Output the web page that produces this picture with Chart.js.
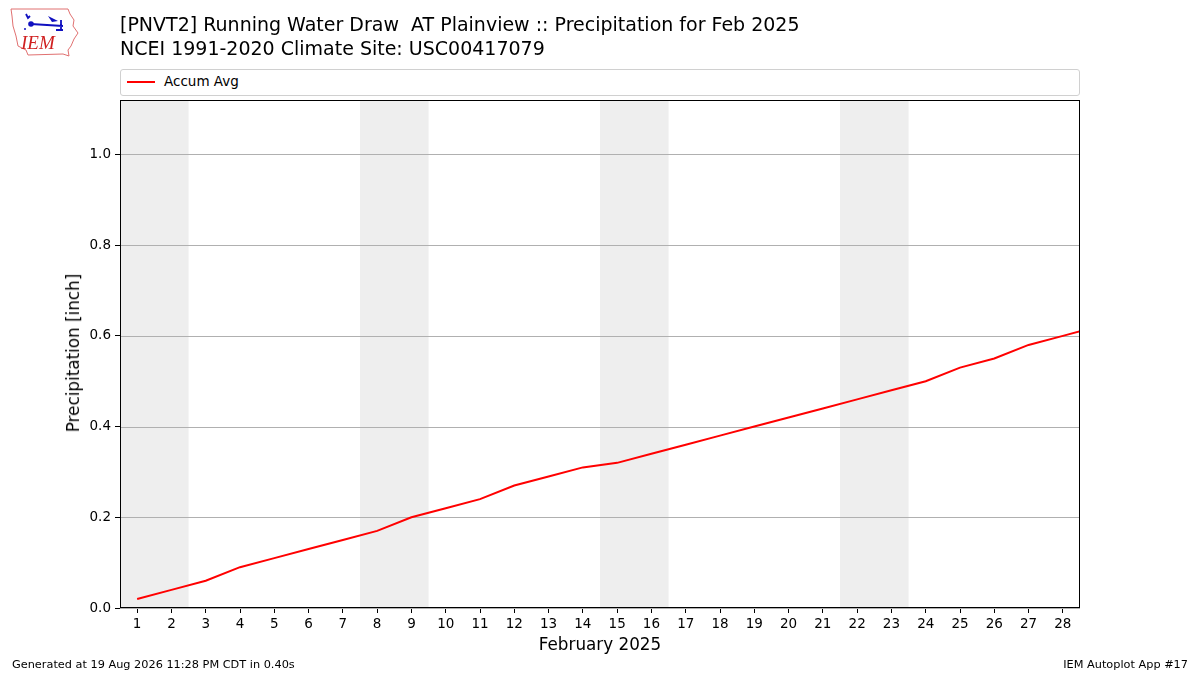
<!DOCTYPE html>
<html>
<head>
<meta charset="utf-8">
<script src="https://cdn.jsdelivr.net/npm/chart.js@4"></script>
<style>
  body { margin: 0; background: #fff; font-family: "DejaVu Sans", sans-serif; }
  #wrap { position: relative; width: 1200px; height: 675px; overflow: hidden; }
  #chart { position: absolute; left: 0; top: 0; }
  .txt { position: absolute; white-space: pre; color: #000; }
  #legend { position: absolute; left: 120px; top: 69px; width: 958px; height: 25px;
            border: 1px solid #d0d0d0; border-radius: 3px; background: #fff; }
  #legend .sw { position: absolute; left: 6px; top: 11px; width: 28px; height: 2px; background: #ff0000; }
  #legend .lb { position: absolute; left: 43px; top: 3px; font-size: 13.5px; }
</style>
</head>
<body>
<div id="wrap">
  <canvas id="chart" width="1200" height="675"></canvas>
  <svg style="position:absolute;left:8px;top:6px" width="72" height="52" viewBox="0 0 72 52">
    <path d="M3,3 L60,3 L62,8 L66,14 L65,20 L70,27 L66,33 L63,40 L60,44 L61,50 L55,48 L20,49 L18,44 L10,40 L8,30 L5,20 L4,10 Z"
          fill="#fff" stroke="#e07070" stroke-width="1"/>
    <path d="M18,8 L20,12 L22,10 M23,18 L55,20 M53,14 L53,24 M48,24 L55,24" stroke="#1010c0" stroke-width="1.8" fill="none"/>
    <circle cx="23" cy="18" r="2.8" fill="#1010c0"/>
    <path d="M40,10 L50,15 L44,16 Z" fill="#1010c0"/>
    <circle cx="17" cy="23" r="1" fill="#1010c0"/>
  </svg>
  <div class="txt" style="left:21px;top:32px;font-family:'Liberation Serif',serif;font-style:italic;font-size:19px;color:#d02020;">IEM</div>
  <div class="txt" style="left:120px;top:13px;font-size:19px;">[PNVT2] Running Water Draw  AT Plainview :: Precipitation for Feb 2025</div>
  <div class="txt" style="left:120px;top:37px;font-size:19px;">NCEI 1991-2020 Climate Site: USC00417079</div>
  <div id="legend"><div class="sw"></div><div class="lb">Accum Avg</div></div>
  <div class="txt" style="left:73px;top:353px;font-size:16.8px;transform:translate(-50%,-50%) rotate(-90deg);transform-origin:center;">Precipitation [inch]</div>
  <div class="txt" style="left:600px;top:634px;font-size:16.8px;transform:translateX(-50%);">February 2025</div>
  <div class="txt" style="left:12px;top:658px;font-size:11.3px;">Generated at 19 Aug 2026 11:28 PM CDT in 0.40s</div>
  <div class="txt" style="right:12px;top:658px;font-size:11.3px;">IEM Autoplot App #17</div>
</div>
<script>
// day of month, accumulated average precip (inch); day 29 = Mar 1, runs off the edge
const days = [1, 2, 3, 4, 5, 6, 7, 8, 9, 10, 11, 12, 13, 14, 15, 16, 17, 18, 19, 20,
              21, 22, 23, 24, 25, 26, 27, 28, 29];
const accumAvg = [0.02, 0.04, 0.06, 0.09, 0.11, 0.13, 0.15, 0.17, 0.20, 0.22, 0.24, 0.27, 0.29, 0.31, 0.32,
                  0.34, 0.36, 0.38, 0.40, 0.42, 0.44, 0.46, 0.48, 0.50, 0.53, 0.55, 0.58, 0.60, 0.62];
const xTicks = [1, 2, 3, 4, 5, 6, 7, 8, 9, 10, 11, 12, 13, 14, 15, 16, 17, 18, 19, 20,
                21, 22, 23, 24, 25, 26, 27, 28];
const yTicks = [0.0, 0.2, 0.4, 0.6, 0.8, 1.0];
const weekends = [[1, 2], [8, 9], [15, 16], [22, 23]];

// weekend bands, then the horizontal grid on top of them, then the line
const shadePlugin = {
    id: 'shade',
    beforeDatasetsDraw(chart) {
        const { ctx, chartArea, scales } = chart;
        ctx.save();
        ctx.fillStyle = '#eeeeee';
        weekends.forEach(([a, b]) => {
            const x0 = scales.x.getPixelForValue(a - 0.5);
            const x1 = scales.x.getPixelForValue(b + 0.5);
            ctx.fillRect(x0, chartArea.top, x1 - x0, chartArea.bottom - chartArea.top);
        });
        ctx.strokeStyle = '#b0b0b0';
        ctx.lineWidth = 1;
        yTicks.forEach((v) => {
            const y = Math.round(scales.y.getPixelForValue(v)) + 0.5;
            ctx.beginPath();
            ctx.moveTo(chartArea.left, y);
            ctx.lineTo(chartArea.right, y);
            ctx.stroke();
        });
        ctx.restore();
    },
    afterDraw(chart) {
        const { ctx, chartArea } = chart;
        ctx.save();
        ctx.strokeStyle = '#000';
        ctx.lineWidth = 1;
        ctx.strokeRect(chartArea.left + 0.5, chartArea.top + 0.5,
            chartArea.right - chartArea.left - 1, chartArea.bottom - chartArea.top - 1);
        ctx.restore();
    }
};

new Chart(document.getElementById('chart'), {
    type: 'line',
    data: {
        datasets: [{
            label: 'Accum Avg',
            data: days.map((d, i) => ({ x: d, y: accumAvg[i] })),
            borderColor: '#ff0000',
            borderWidth: 2,
            pointRadius: 0,
            tension: 0
        }]
    },
    options: {
        responsive: false,
        animation: false,
        layout: { padding: { left: 0, top: 100, right: 120, bottom: 0 } },
        plugins: { legend: { display: false }, tooltip: { enabled: false } },
        scales: {
            x: {
                type: 'linear',
                min: 0.5,
                max: 28.5,
                afterBuildTicks: (s) => { s.ticks = xTicks.map((v) => ({ value: v })); },
                afterFit: (s) => { s.height = 67; },
                ticks: {
                    autoSkip: false,
                    maxRotation: 0,
                    padding: 3,
                    color: '#000',
                    font: { family: 'DejaVu Sans', size: 13.5 }
                },
                grid: { drawOnChartArea: false, tickLength: 5, color: '#000', tickColor: '#000' },
                border: { display: false }
            },
            y: {
                min: 0,
                max: 1.12,
                afterBuildTicks: (s) => { s.ticks = yTicks.map((v) => ({ value: v })); },
                afterFit: (s) => { s.width = 120; },
                ticks: {
                    padding: 4,
                    color: '#000',
                    callback: (v) => v.toFixed(1),
                    font: { family: 'DejaVu Sans', size: 13.5 }
                },
                grid: { drawOnChartArea: false, tickLength: 5, color: '#000', tickColor: '#000' },
                border: { display: false }
            }
        }
    },
    plugins: [shadePlugin]
});
</script>
</body>
</html>
